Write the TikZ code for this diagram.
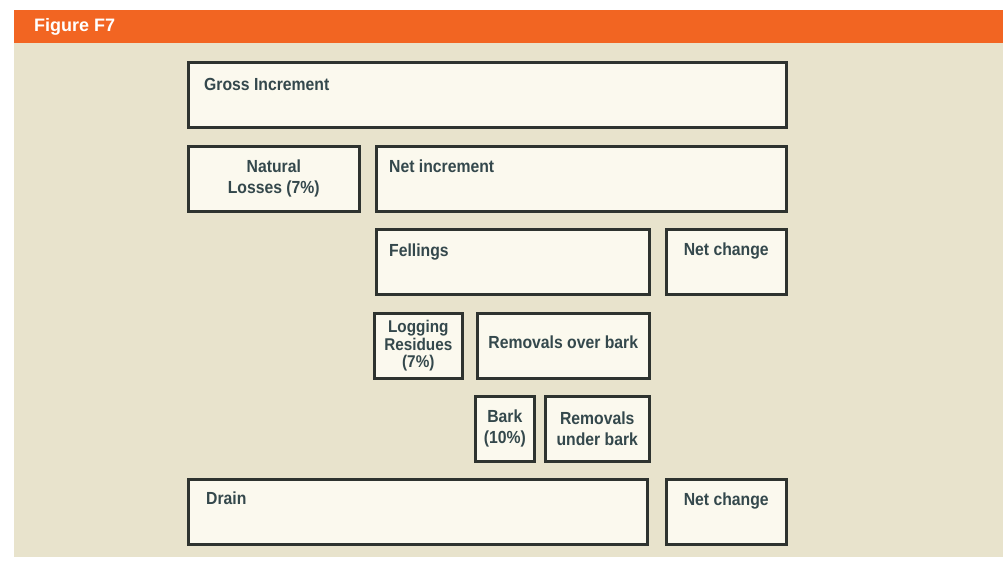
\documentclass[tikz,border=0pt]{standalone}
\usepackage{fontspec}
\setmainfont{Liberation Sans}[FakeStretch=0.9]
\newfontfamily\headfont{Liberation Sans}

\definecolor{bandorange}{HTML}{F26522}
\definecolor{panelbeige}{HTML}{E8E3CC}
\definecolor{boxfill}{HTML}{FBF9EE}
\definecolor{boxline}{HTML}{2E332F}
\definecolor{labeltext}{HTML}{34484C}

\tikzset{
  panel/.style={draw=boxline, line width=2.6pt, fill=boxfill, anchor=north west, inner sep=0pt,
    align=center, text=labeltext, font=\bfseries\fontsize{17.5}{21}\selectfont},
  tag/.style={anchor=west, inner sep=0pt, text=labeltext, font=\bfseries\fontsize{17.5}{21}\selectfont},
}

\begin{document}
\begin{tikzpicture}[x=1pt,y=-1pt]
\useasboundingbox (0,0) rectangle (1003,564);
\fill[white] (0,0) rectangle (1003,564);
% header band and panel
\fill[panelbeige] (14,43) rectangle (1003,557);
\fill[bandorange] (14,10) rectangle (1003,43);
\node[anchor=west, inner sep=0pt, text=white, font=\headfont\bfseries\fontsize{18}{20}\selectfont] (title) at (34,26.5) {Figure F7};

% row 1
\node[panel, minimum width=598, minimum height=65] (gross) at (187,61) {};
\node[tag] (gross-t) at ([shift={(17,23)}]gross.north west) {Gross Increment};

% row 2
\node[panel, minimum width=171, minimum height=65] (natural) at (187,145) {Natural\\Losses (7\%)};
\node[panel, minimum width=410, minimum height=65] (netinc) at (375,145) {};
\node[tag] (netinc-t) at ([shift={(14,21)}]netinc.north west) {Net increment};

% row 3
\node[panel, minimum width=273, minimum height=65] (fellings) at (375,228) {};
\node[tag] (fellings-t) at ([shift={(14,24)}]fellings.north west) {Fellings};
\node[panel, minimum width=120, minimum height=65] (netchg) at (665,228) {};
\node[tag, anchor=center] (netchg-t) at ([shift={(0,23)}]netchg.north) {Net change};

% row 4
\node[panel, minimum width=88, minimum height=65, font=\bfseries\fontsize{17}{17.5}\selectfont] (residues) at (373,312) {Logging\\Residues\\(7\%)};
\node[panel, minimum width=172, minimum height=65] (overbark) at (476,312) {};
\node[tag, anchor=center] (overbark-t) at ([shift={(0,-4)}]overbark.center) {Removals over bark};

% row 5
\node[panel, minimum width=59, minimum height=65] (bark) at (474,395) {Bark\\(10\%)};
\node[panel, minimum width=104, minimum height=65] (underbark) at (544,395) {Removals\\under bark};

% row 6
\node[panel, minimum width=459, minimum height=65] (drain) at (187,478) {};
\node[tag] (drain-t) at ([shift={(19,20)}]drain.north west) {Drain};
\node[panel, minimum width=120, minimum height=65] (netchg2) at (665,478) {};
\node[tag, anchor=center] (netchg2-t) at ([shift={(0,23)}]netchg2.north) {Net change};
\end{tikzpicture}
\end{document}
